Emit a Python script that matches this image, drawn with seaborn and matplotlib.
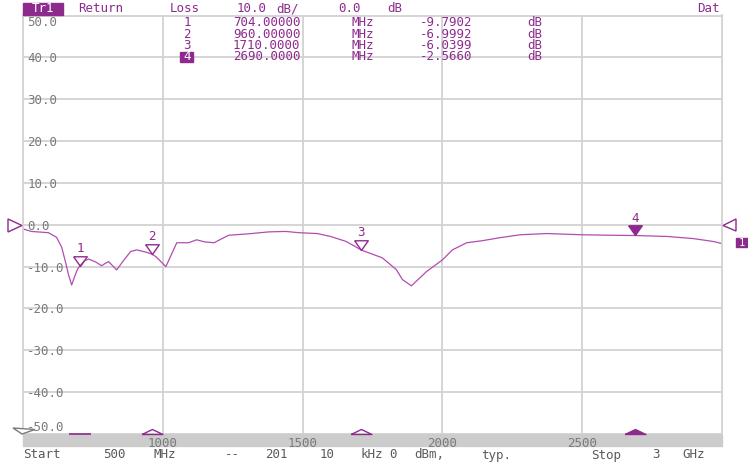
import matplotlib
matplotlib.use("Agg")
import matplotlib.pyplot as plt
from matplotlib.patches import Rectangle, Polygon
import pandas as pd
import seaborn as sns

# return loss trace
freq_mhz = [500, 530, 591, 620, 638, 652, 663, 674, 685, 695, 704, 720, 735, 760, 781, 795,
            806, 835, 860, 885, 907, 943, 960, 975, 1011, 1050, 1092, 1121, 1150, 1183, 1236,
            1301, 1380, 1440, 1487, 1552, 1600, 1656, 1710, 1785, 1835, 1857, 1889, 1943,
            2000, 2036, 2087, 2144, 2205, 2277, 2373, 2502, 2600, 2690, 2804, 2897, 2969, 3000]
loss_db = [-1.0, -1.6, -1.9, -3.0, -5.3, -8.9, -12.0, -14.4, -12.3, -10.6, -9.79, -8.6, -8.2,
           -8.9, -9.8, -9.2, -8.8, -10.8, -8.5, -6.4, -6.0, -6.6, -7.0, -7.6, -10.0, -4.3, -4.3,
           -3.6, -4.1, -4.3, -2.5, -2.2, -1.7, -1.6, -1.9, -2.1, -2.8, -4.0, -6.04, -7.9, -10.7,
           -13.1, -14.6, -11.2, -8.4, -6.0, -4.3, -3.8, -3.1, -2.4, -2.1, -2.4, -2.5, -2.57,
           -2.8, -3.3, -4.0, -4.5]

marker_id = ["1", "2", "3", "4"]
marker_freq = [704.0, 960.0, 1710.0, 2690.0]
marker_db = [-9.7902, -6.9992, -6.0399, -2.5660]

x_ticks = [1000, 1500, 2000, 2500]
y_ticks = [50, 40, 30, 20, 10, 0, -10, -20, -30, -40, -50]

W, H = 748, 467
PURPLE = "#8e2a8e"
TRACE = "#b24cb2"
GRID = "#d2d2d2"
GRAY = "#7a7a7a"

sns.set_style("white")
plt.rcParams["font.family"] = ["DejaVu Sans Mono"]
FS = 9


def fxy(x, y):
    # screen pixel -> figure fraction
    return x / W, 1 - y / H


def words(y, items, color, size=FS):
    for x, w in items:
        fig.text(*fxy(x, y), w, color=color, fontsize=size, ha="left", va="center")


fig = plt.figure(figsize=(W / 100, H / 100), dpi=100)
ax = fig.add_axes([23 / W, 33 / H, 699 / W, 418.5 / H])

df = pd.DataFrame({"freq": freq_mhz, "db": loss_db})
sns.lineplot(data=df, x="freq", y="db", ax=ax, color=TRACE, lw=0.9)

ax.set_xlim(500, 3000)
ax.set_ylim(-50, 50)
ax.set_xticks(x_ticks)
ax.set_yticks(y_ticks)
ax.set_yticklabels([f"{v:.1f}" for v in y_ticks])
ax.grid(True, color=GRID, lw=1.3)
ax.set_xlabel("")
ax.set_ylabel("")
for s in ["left", "right", "top"]:
    ax.spines[s].set_color(GRID)
    ax.spines[s].set_linewidth(1.3)
ax.spines["bottom"].set_visible(False)
ax.tick_params(axis="x", length=0, pad=2, labelsize=FS, labelcolor=GRAY)
ax.tick_params(axis="y", length=0, pad=-3, labelsize=FS, labelcolor=GRAY)
for lab, v in zip(ax.get_yticklabels(), y_ticks):
    lab.set_ha("left")
    if v == 50:
        lab.set_va("top")
    elif v == -50:
        lab.set_va("bottom")

# gray frequency bar under the grid
fig.patches.append(Rectangle(fxy(23, 446), 699 / W, 12 / H, transform=fig.transFigure,
                             color="#cccccc", zorder=-1))

# markers on the trace: triangle with its tip on the point
tri_down = [(-0.7, 1), (0.7, 1), (0, 0), (-0.7, 1)]
tri_up = [(-1, 0), (1, 0), (0, 0.48), (-1, 0)]
for i, (mid, f, v) in enumerate(zip(marker_id, marker_freq, marker_db)):
    active = i == len(marker_id) - 1
    ax.plot(f, v, marker=tri_down, ms=14, mec=PURPLE, mew=1,
            mfc=PURPLE if active else "none", ls="none", zorder=5)
    ax.annotate(mid, (f, v), xytext=(0, 12.5), textcoords="offset points",
                ha="center", va="center", color=PURPLE, fontsize=FS)
    if i == 0:
        ax.plot(f, -50, marker="_", ms=16, mew=1.2, color=PURPLE, clip_on=False, zorder=5)
    else:
        ax.plot(f, -50, marker=tri_up, ms=15, mec=PURPLE, mew=1,
                mfc=PURPLE if active else "none", ls="none", clip_on=False, zorder=5)

# reference level arrows and trace tag
fig.patches.append(Polygon([fxy(8, 219), fxy(22, 225.5), fxy(8, 232)], closed=True,
                           transform=fig.transFigure, fc="white", ec=PURPLE, lw=1))
fig.patches.append(Polygon([fxy(736, 219), fxy(723, 225.5), fxy(736, 231)], closed=True,
                           transform=fig.transFigure, fc="white", ec=PURPLE, lw=1))
fig.patches.append(Rectangle(fxy(736, 247), 12 / W, 9 / H, transform=fig.transFigure,
                             color=PURPLE))
fig.text(*fxy(742, 242.5), "1", color="white", fontsize=7.5, ha="center", va="center")
fig.patches.append(Polygon([fxy(13, 428), fxy(35, 429.5), fxy(22, 434)], closed=True,
                           transform=fig.transFigure, fc="white", ec=GRAY, lw=1, zorder=5))

# header line
fig.patches.append(Rectangle(fxy(23, 15), 40 / W, 12 / H, transform=fig.transFigure,
                             color=PURPLE))
fig.text(*fxy(43, 9), "Tr1", color="white", fontsize=FS, ha="center", va="center")
words(9, [(78, "Return"), (170, "Loss"), (237, "10.0"), (276, "dB/"), (338, "0.0"),
          (387, "dB")], PURPLE)
fig.text(*fxy(720, 9), "Dat", color=PURPLE, fontsize=FS, ha="right", va="center")

# marker table
rows_y = [22, 34, 45.5, 57]
for i, (mid, f, v, y) in enumerate(zip(marker_id, marker_freq, marker_db, rows_y)):
    ftxt = f"{f:.5f}" if f < 1000 else f"{f:.4f}"
    if i == len(marker_id) - 1:
        fig.patches.append(Rectangle(fxy(180, y + 5), 13 / W, 10 / H,
                                     transform=fig.transFigure, color=PURPLE))
        fig.text(*fxy(187, y), mid, color="white", fontsize=FS, ha="center", va="center")
    else:
        fig.text(*fxy(187, y), mid, color=PURPLE, fontsize=FS, ha="center", va="center")
    words(y, [(233, ftxt), (352, "MHz"), (420, f"{v:.4f}"), (527, "dB")], PURPLE)

# footer line
words(455, [(23, "Start"), (103, "500"), (153, "MHz"), (225, "--"), (265, "201"),
            (320, "10"), (360, "kHz"), (389, "0"), (414, "dBm,"), (481, "typ."),
            (591, "Stop"), (652, "3"), (682, "GHz")], "#5a5a5a")

fig.savefig("out.png", dpi=100)
